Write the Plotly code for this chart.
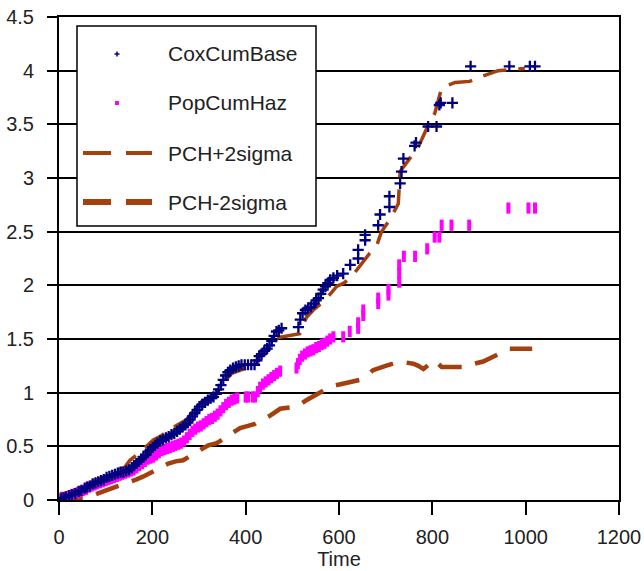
import plotly.graph_objects as go

# ---------------- data ----------------
cox_t = [5, 10, 15, 22, 28, 35, 42, 48, 55, 60,
         66, 72, 78, 84, 90, 96, 102, 108,
         114, 120, 126, 132, 138, 144, 150,
         156, 161, 166, 171, 176, 181, 186, 191, 196, 201, 206, 211,
         217, 223, 229, 235, 241, 247, 253, 259, 265, 271, 276,
         281, 286, 291, 296, 301, 307, 313, 319, 325, 331, 337, 342, 347,
         352, 357, 362, 367, 373, 379, 385, 391,
         398, 405, 412, 419, 424, 429,
         434, 440, 446, 451, 456, 461, 466, 471, 477,
         513, 517, 522, 528, 534, 540, 546, 551, 556, 561, 566, 571, 576, 581,
         588, 596, 609, 624, 641, 641, 656, 656, 684, 688, 708, 708,
         731, 734, 738, 762, 765, 791, 809, 815, 818, 843,
         882, 965, 1009, 1020]
cox_v = [0.01, 0.02, 0.03, 0.04, 0.05, 0.06, 0.08, 0.09, 0.11, 0.12,
         0.13, 0.15, 0.16, 0.17, 0.18, 0.19, 0.21, 0.22,
         0.23, 0.24, 0.25, 0.26, 0.26, 0.27, 0.28,
         0.30, 0.32, 0.34, 0.36, 0.38, 0.40, 0.42, 0.45, 0.47, 0.49, 0.51, 0.53,
         0.55, 0.56, 0.58, 0.59, 0.61, 0.62, 0.64, 0.66, 0.68, 0.70, 0.72,
         0.75, 0.78, 0.81, 0.84, 0.87, 0.89, 0.91, 0.93, 0.95, 0.96, 0.99, 1.03, 1.07,
         1.12, 1.16, 1.19, 1.21, 1.23, 1.24, 1.25, 1.26,
         1.26, 1.26, 1.26, 1.26, 1.30, 1.34,
         1.36, 1.39, 1.41, 1.44, 1.48, 1.53, 1.57, 1.58, 1.60,
         1.61, 1.68, 1.74, 1.77, 1.79, 1.80, 1.83, 1.86, 1.88, 1.92, 1.96, 1.99, 2.02, 2.05,
         2.07, 2.09, 2.11, 2.19, 2.25, 2.33, 2.42, 2.47, 2.56, 2.66, 2.73, 2.83,
         2.95, 3.06, 3.18, 3.30, 3.33, 3.48, 3.48, 3.68, 3.70, 3.70,
         4.04, 4.04, 4.04, 4.04]

pop_t = [0, 5, 10, 16, 22, 28, 34, 40, 46, 52, 58, 64, 70, 76, 82, 88, 94, 100,
         106, 112, 118, 124, 130, 136, 142, 148, 154, 160, 166, 172, 178, 184,
         190, 196, 202, 208, 214, 220, 226, 232, 238, 244, 250, 256, 262, 268,
         274, 280, 286, 292, 298, 304, 310, 316, 322, 328, 334, 340, 346, 352,
         358, 364, 370, 376, 382, 400, 405, 415, 420, 426, 431, 437, 443, 449,
         455, 461, 467, 474, 509, 512, 516, 521, 527, 533, 539, 545, 551, 557,
         563, 569, 575, 581, 588, 609, 623, 641, 641, 652, 652, 684, 684, 706,
         706, 729, 729, 729, 739, 763, 789, 805, 815, 820, 841, 879, 963, 1006, 1020]
pop_v = [0.00, 0.01, 0.02, 0.03, 0.04, 0.05, 0.06, 0.07, 0.08, 0.09, 0.10, 0.12,
         0.13, 0.14, 0.15, 0.16, 0.17, 0.18, 0.19, 0.20, 0.21, 0.22, 0.23, 0.24,
         0.25, 0.26, 0.27, 0.28, 0.30, 0.32, 0.34, 0.36, 0.38, 0.39, 0.40, 0.42,
         0.44, 0.46, 0.47, 0.48, 0.49, 0.50, 0.51, 0.52, 0.53, 0.55, 0.58, 0.61,
         0.64, 0.66, 0.68, 0.69, 0.71, 0.73, 0.75, 0.76, 0.78, 0.80, 0.83, 0.86,
         0.89, 0.91, 0.93, 0.94, 0.95, 0.96, 0.96, 0.96, 0.96, 1.01, 1.05, 1.08,
         1.10, 1.12, 1.14, 1.16, 1.18, 1.20, 1.23, 1.27, 1.31, 1.34, 1.36, 1.38,
         1.39, 1.40, 1.42, 1.43, 1.45, 1.46, 1.48, 1.50, 1.52, 1.52, 1.57, 1.60,
         1.65, 1.72, 1.77, 1.83, 1.88, 1.91, 1.96, 2.03, 2.11, 2.19, 2.27, 2.27,
         2.34, 2.45, 2.45, 2.56, 2.56, 2.56, 2.72, 2.72, 2.72]

up_t = [0, 5, 50, 59, 81, 100, 124, 140, 152, 175, 202, 220, 234, 255, 274,
        295, 309, 338, 350, 370, 395, 424, 428, 445, 466, 516, 530, 545, 570,
        595, 610, 627, 645, 666, 680, 691, 710, 727, 731, 750, 770, 793, 805,
        820, 849, 880, 902, 941, 998]
up_v = [0.00, 0.06, 0.06, 0.14, 0.19, 0.22, 0.28, 0.30, 0.37, 0.45, 0.56, 0.60,
        0.65, 0.70, 0.75, 0.88, 0.93, 0.99, 1.08, 1.18, 1.22, 1.24, 1.34, 1.40,
        1.51, 1.55, 1.70, 1.77, 1.86, 1.99, 2.02, 2.08, 2.18, 2.30, 2.36, 2.50,
        2.62, 2.76, 3.06, 3.17, 3.29, 3.51, 3.60, 3.84, 3.89, 3.90, 3.94, 4.00, 4.02]

lo_t = [0, 20, 59, 75, 95, 120, 149, 165, 181, 210, 234, 250, 266, 285, 306,
        320, 338, 365, 388, 405, 420, 450, 474, 490, 509, 530, 556, 570, 584,
        615, 645, 660, 673, 700, 731, 745, 759, 770, 781, 792, 802, 810, 820,
        874, 890, 909, 940, 966, 1014]
lo_v = [0.00, 0.02, 0.02, 0.05, 0.08, 0.12, 0.16, 0.19, 0.22, 0.28, 0.34, 0.36,
        0.37, 0.42, 0.48, 0.51, 0.53, 0.60, 0.67, 0.69, 0.71, 0.78, 0.85, 0.86,
        0.87, 0.93, 0.99, 1.03, 1.06, 1.09, 1.12, 1.16, 1.21, 1.25, 1.29, 1.28,
        1.27, 1.25, 1.22, 1.26, 1.30, 1.28, 1.24, 1.24, 1.27, 1.29, 1.35, 1.41, 1.41]

legend_names = ["CoxCumBase", "PopCumHaz", "PCH+2sigma", "PCH-2sigma"]
x_ticks = [0, 200, 400, 600, 800, 1000, 1200]
y_ticks = [0, 0.5, 1, 1.5, 2, 2.5, 3, 3.5, 4, 4.5]

NAVY = "#00007f"
PINK = "#ff00ff"
BROWN = "#a3400e"
FONT = "Liberation Sans, Arial, Helvetica, sans-serif"

fig = go.Figure()
fig.add_trace(go.Scatter(x=up_t, y=up_v, mode="lines", name=legend_names[2],
                         line=dict(color=BROWN, width=3.5, dash="24px,12px")))
fig.add_trace(go.Scatter(x=lo_t, y=lo_v, mode="lines", name=legend_names[3],
                         line=dict(color=BROWN, width=4.5, dash="24px,14px")))
fig.add_trace(go.Scatter(x=pop_t, y=pop_v, mode="markers", name=legend_names[1],
                         marker=dict(symbol="line-ns", size=8,
                                     line=dict(width=4, color=PINK))))
fig.add_trace(go.Scatter(x=cox_t, y=cox_v, mode="markers", name=legend_names[0],
                         marker=dict(symbol="cross-thin", size=8,
                                     line=dict(width=2.3, color=NAVY))))

# ---------------- layout ----------------
L, R, T, B = 59, 25, 17, 71
W, H = 644, 571
pw, ph = W - L - R, H - T - B

def px(xp):
    return (xp - L) / pw

def py(yp):
    return (H - B - yp) / ph

shapes = []
annotations = []
# legend box
shapes.append(dict(type="rect", xref="paper", yref="paper",
                   x0=px(77), x1=px(316), y0=py(226), y1=py(26),
                   line=dict(color="black", width=1.5), fillcolor="white", layer="above"))
rows = [54, 103, 153, 202]
# Cox '+' marker
cx, cy = 117, rows[0]
shapes.append(dict(type="line", xref="paper", yref="paper", x0=px(cx - 2.5), x1=px(cx + 2.5),
                   y0=py(cy), y1=py(cy), line=dict(color=NAVY, width=1.5), layer="above"))
shapes.append(dict(type="line", xref="paper", yref="paper", x0=px(cx), x1=px(cx),
                   y0=py(cy - 2.5), y1=py(cy + 2.5), line=dict(color=NAVY, width=1.5), layer="above"))
# Pop square
cy = rows[1]
shapes.append(dict(type="rect", xref="paper", yref="paper", x0=px(cx - 2), x1=px(cx + 2),
                   y0=py(cy + 2), y1=py(cy - 2), line=dict(width=0), fillcolor=PINK, layer="above"))
# dashes
for r, w in [(rows[2], 4), (rows[3], 6)]:
    shapes.append(dict(type="line", xref="paper", yref="paper", x0=px(83), x1=px(111),
                       y0=py(r), y1=py(r), line=dict(color=BROWN, width=w), layer="above"))
    shapes.append(dict(type="line", xref="paper", yref="paper", x0=px(126), x1=px(152),
                       y0=py(r), y1=py(r), line=dict(color=BROWN, width=w), layer="above"))
for name, r in zip(legend_names, rows):
    annotations.append(dict(xref="paper", yref="paper", x=px(166), y=py(r), text=name,
                            showarrow=False, xanchor="left", yanchor="middle",
                            font=dict(family=FONT, size=21, color="#222")))

fig.update_layout(
    template="none",
    width=W, height=H,
    margin=dict(l=L, r=R, t=T, b=B, pad=0, autoexpand=False),
    paper_bgcolor="white", plot_bgcolor="white",
    showlegend=False,
    font=dict(family=FONT, size=20, color="#222"),
    shapes=shapes, annotations=annotations,
    xaxis=dict(range=[0, 1200], tickvals=x_ticks, showgrid=False, zeroline=False,
               automargin=False,
               showline=True, linecolor="black", linewidth=2, mirror=True,
               ticks="outside", ticklen=13, tickwidth=2, tickcolor="black",
               ticklabelstandoff=5,
               title=dict(text="Time", font=dict(family=FONT, size=20, color="#222"),
                          standoff=4)),
    yaxis=dict(range=[0, 4.5], tickvals=y_ticks, showgrid=True, gridcolor="black",
               gridwidth=2, zeroline=False, automargin=False,
               showline=True, linecolor="black", linewidth=2, mirror=True,
               ticks="outside", ticklen=10, tickwidth=2, tickcolor="black",
               ticklabelstandoff=9),
)

fig.write_html("out.html",
               post_script="document.body.style.margin='0';document.body.style.overflow='hidden';")
